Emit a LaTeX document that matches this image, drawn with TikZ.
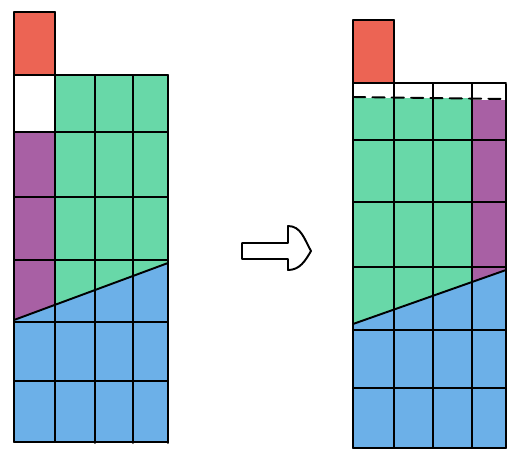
\documentclass[tikz,border=0pt]{standalone}
\usetikzlibrary{calc}

\definecolor{redfill}{RGB}{236,100,84}
\definecolor{greenfill}{RGB}{104,216,168}
\definecolor{purplefill}{RGB}{168,96,164}
\definecolor{bluefill}{RGB}{108,176,232}

\begin{document}
\begin{tikzpicture}[x=0.02cm, y=-0.02cm]

    \useasboundingbox (0,0) rectangle (510,450);
    \tikzset{pen/.style={black, line width=1.1pt, line cap=round, line join=round}}

    % Define Left Figure Corners
    \coordinate (L1) at (14,320);  % left end of the slanted cut
    \coordinate (L2) at (168,263); % right end of the slanted cut

    % Define Right Figure Corners
    \coordinate (R1) at (353,324);
    \coordinate (R2) at (506,270);

    % Left figure: colour fills
    \fill[redfill] (14,12) rectangle (55,74);
    \fill[purplefill] (14,132) rectangle (55,330);
    \fill[greenfill] (55,75) rectangle (168,330);
    \fill[bluefill] (L1) -- (L2) -- (168,442) -- (14,442) -- cycle;

    % Left figure: grid lines
    \draw[pen] (14,12) -- (55,12);
    \foreach \x in {14,55} \draw[pen] (\x,12) -- (\x,442);
    \foreach \x in {95,133,168} \draw[pen] (\x,75) -- (\x,443);
    \foreach \y in {75,132,197,260,322,381,442} \draw[pen] (14,\y) -- (168,\y);
    \draw[pen] (L1) -- (L2);

    % Right figure: colour fills
    \fill[redfill] (353,20) rectangle (394,82);
    \fill[greenfill] (353,98) rectangle (472,330);
    \fill[purplefill] (472,100) rectangle (506,285);
    \fill[bluefill] (R1) -- (R2) -- (506,448) -- (353,448) -- cycle;

    % Right figure: grid lines
    \draw[pen] (353,20) -- (394,20);
    \foreach \x in {353,394} \draw[pen] (\x,20) -- (\x,448);
    \foreach \x in {433,472,506} \draw[pen] (\x,84) -- (\x,448);
    \foreach \y in {83,140,202,267,330,388,448} \draw[pen] (353,\y) -- (506,\y);
    \draw[pen, dashed, dash pattern=on 7pt off 4pt] (353,97) -- (506,99);
    \draw[pen] (R1) -- (R2);

    % Hollow arrow between the two figures
    \coordinate (A1) at (242,243);
    \coordinate (A2) at (288,243);
    \coordinate (A3) at (288,226);
    \coordinate (A4) at (311,251);
    \coordinate (A5) at (288,270);
    \coordinate (A6) at (288,259);
    \coordinate (A7) at (242,259);
    \draw[pen] (A1) -- (A2) -- (A3) to[out=0, in=120] (A4) to[out=240, in=0] (A5) -- (A6) -- (A7) -- cycle;

\end{tikzpicture}
\end{document}
